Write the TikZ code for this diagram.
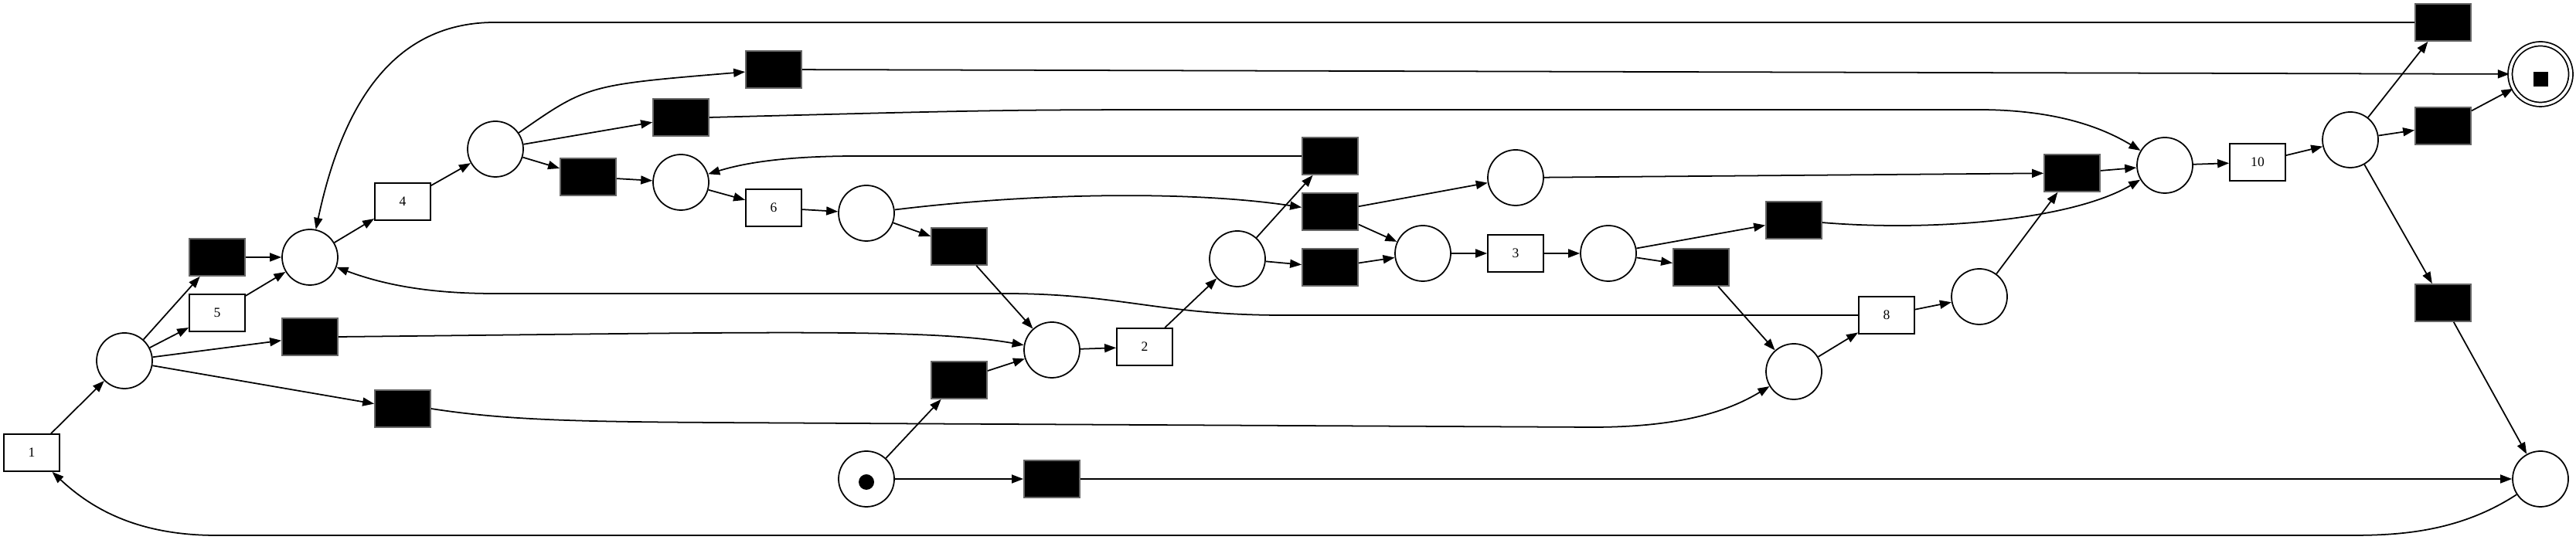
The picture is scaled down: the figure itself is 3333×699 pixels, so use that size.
\documentclass[tikz,border=0pt]{standalone}
\usepackage{fontspec}
\setmainfont{Liberation Serif}
\usepackage{tikz}
\usetikzlibrary{arrows.meta}
\tikzset{%
  pnode/.style={draw,shape=circle,minimum size=7.2mm,inner sep=0},
  enode/.style={pnode,minimum size=7.85mm,double,double distance=0.37mm},
  tnode/.style={draw,shape=rectangle,minimum width=7.2mm,minimum height=4.8mm,inner sep=0,font=\fontsize{5}{6}\selectfont},
  snode/.style={tnode,fill=black,draw=black!60},
  arc/.style={draw,line width=0.5pt,-{Triangle[length=1.5mm,width=1.1mm]}}
}
\begin{document}
\begin{tikzpicture}[x=0.1mm,y=-0.1mm,line width=0.5pt]
      \useasboundingbox (0,0) rectangle (3333,699);
      \path
        (41,586) node (t_1)[tnode]{1}
        (161,467) node (p_1)[pnode]{}
        (281,333) node (s_1)[snode]{}
        (281,405) node (t_5)[tnode]{5}
        (401,333) node (p_2)[pnode]{}
        (401,436) node (s_2)[snode]{}
        (521,529) node (s_3)[snode]{}
        (521,261) node (t_4)[tnode]{4}
        (641,193) node (p_3)[pnode]{}
        (1001,90) node (s_4)[snode]{}
        (881,152) node (s_5)[snode]{}
        (761,229) node (s_6)[snode]{}
        (881,236) node (p_4)[pnode]{}
        (1001,269) node (t_6)[tnode]{6}
        (1121,276) node (p_5)[pnode]{}
        (1241,319) node (s_7)[snode]{}
        (1361,453) node (p_6)[pnode]{}
        (1241,492) node (s_8)[snode]{}
        (1121,620) node (p_0)[pnode]{}
        (1361,620) node (s_9)[snode]{}
        (1481,449) node (t_2)[tnode]{2}
        (1601,335) node (p_7)[pnode]{}
        (1721,202) node (s_10)[snode]{}
        (1721,274) node (s_11)[snode]{}
        (1721,346) node (s_12)[snode]{}
        (1961,230) node (p_8)[pnode]{}
        (1841,328) node (p_9)[pnode]{}
        (1961,328) node (t_3)[tnode]{3}
        (2081,328) node (p_10)[pnode]{}
        (2201,346) node (s_13)[snode]{}
        (2321,285) node (s_14)[snode]{}
        (2321,481) node (p_11)[pnode]{}
        (2441,408) node (t_8)[tnode]{8}
        (2561,384) node (p_12)[pnode]{}
        (2681,224) node (s_15)[snode]{}
        (2801,214) node (p_13)[pnode]{}
        (2921,210) node (t_10)[tnode]{10}
        (3041,181) node (p_14)[pnode]{}
        (3161,29) node (s_16)[snode]{}
        (3161,163) node (s_17)[snode]{}
        (3161,392) node (s_18)[snode]{}
        (3287,96) node (p_end)[enode]{}
        (3287,620) node (p_15)[pnode]{};
      % tokens
      \fill (1121,624) circle (1mm);
      \fill (3277.5,93) rectangle (3296.5,112);
      % straight arcs
      \path[arc] (t_1) -- (p_1);
      \path[arc] (p_1) -- (s_1);
      \path[arc] (p_1) -- (t_5);
      \path[arc] (p_1) -- (s_2);
      \path[arc] (p_1) -- (s_3);
      \path[arc] (s_1) -- (p_2);
      \path[arc] (t_5) -- (p_2);
      \path[arc] (p_2) -- (t_4);
      \path[arc] (t_4) -- (p_3);
      \path[arc] (p_3) -- (s_5);
      \path[arc] (p_3) -- (s_6);
      \path[arc] (s_6) -- (p_4);
      \path[arc] (p_4) -- (t_6);
      \path[arc] (t_6) -- (p_5);
      \path[arc] (p_5) -- (s_7);
      \path[arc] (s_7) -- (p_6);
      \path[arc] (s_8) -- (p_6);
      \path[arc] (p_0) -- (s_8);
      \path[arc] (p_0) -- (s_9);
      \path[arc] (p_6) -- (t_2);
      \path[arc] (t_2) -- (p_7);
      \path[arc] (p_7) -- (s_10);
      \path[arc] (p_7) -- (s_12);
      \path[arc] (s_11) -- (p_8);
      \path[arc] (s_11) -- (p_9);
      \path[arc] (s_12) -- (p_9);
      \path[arc] (p_9) -- (t_3);
      \path[arc] (t_3) -- (p_10);
      \path[arc] (p_10) -- (s_14);
      \path[arc] (p_10) -- (s_13);
      \path[arc] (s_13) -- (p_11);
      \path[arc] (p_11) -- (t_8);
      \path[arc] (t_8) -- (p_12);
      \path[arc] (p_12) -- (s_15);
      \path[arc] (p_8) -- (s_15);
      \path[arc] (s_15) -- (p_13);
      \path[arc] (p_13) -- (t_10);
      \path[arc] (t_10) -- (p_14);
      \path[arc] (p_14) -- (s_16);
      \path[arc] (p_14) -- (s_17);
      \path[arc] (p_14) -- (s_18);
      \path[arc] (s_4) -- (p_end);
      \path[arc] (s_17) -- (p_end);
      \path[arc] (s_18) -- (p_15);
      \path[arc] (s_9) -- (p_15);
      % curved arcs
      \path[arc] (p_3) .. controls (760,110) .. (s_4);
      \path[arc] (p_5) .. controls (1350,248) and (1550,248) .. (s_11);
      \path[arc] (s_2.east) .. controls (1000,430) and (1200,425) .. (p_6);
      \path[arc] (s_10.west) -- (1110,202) .. controls (1010,202) and (960,212) .. (p_4);
      \path[arc] (s_3.east) .. controls (680,548) and (800,546) .. (1100,548) -- (2060,553) .. controls (2180,553) and (2240,530) .. (p_11);
      \path[arc] (t_8.west) -- (1660,408) .. controls (1500,408) and (1450,380) .. (1300,380) -- (640,380) .. controls (560,380) and (500,370) .. (p_2);
      \path[arc] (s_14) .. controls (2500,300) and (2680,285) .. (p_13);
      \path[arc] (s_5.east) .. controls (1300,142) .. (1600,142) -- (2560,142) .. controls (2660,142) and (2720,165) .. (p_13);
      \path[arc] (s_16.west) -- (640,29) .. controls (500,29) and (440,150) .. (p_2);
      \path[arc] (p_15) .. controls (3180,690) and (3100,693) .. (3040,693) -- (280,693) .. controls (180,693) and (120,660) .. (t_1);
    \end{tikzpicture}
\end{document}
